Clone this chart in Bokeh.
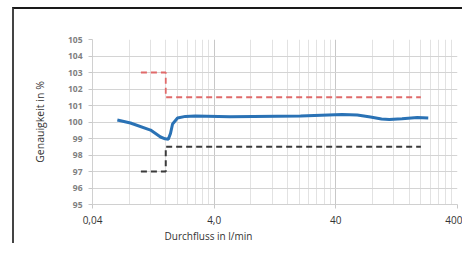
from bokeh.plotting import figure
from bokeh.embed import file_html
from bokeh.resources import INLINE
from bokeh.models import FixedTicker, Range1d, Title

# ---- data ----
flow_x = [0.64, 0.82, 1.20, 1.45, 1.58, 1.68, 1.75, 1.82, 2.0, 2.32, 2.8, 5.4, 20.5, 45.0, 60.0, 77.0, 95.0, 110.0, 140.0, 187.0, 230.0]
accuracy_y = [100.12, 99.94, 99.51, 99.09, 98.98, 98.96, 99.3, 99.88, 100.24, 100.34, 100.37, 100.32, 100.36, 100.45, 100.42, 100.3, 100.18, 100.15, 100.2, 100.27, 100.24]

upper_x = [1.0, 1.6, 1.6, 200.0]
upper_y = [103.0, 103.0, 101.5, 101.5]
lower_x = [1.0, 1.6, 1.6, 200.0]
lower_y = [97.0, 97.0, 98.5, 98.5]

x_tick_values = [0.4, 4.0, 40.0, 400.0]
x_tick_labels = ["0,04", "4,0", "40", "400"]
y_tick_values = [95, 96, 97, 98, 99, 100, 101, 102, 103, 104, 105]

x_title = "Durchfluss in l/min"
y_title = "Genauigkeit in %"

FONT = "Open Sans"

p = figure(width=450, height=236, x_axis_type="log",
           x_range=Range1d(0.4, 400), y_range=Range1d(95, 105),
           output_backend="svg", toolbar_location=None,
           min_border_left=78, min_border_right=7, min_border_top=30, min_border_bottom=41,
           styles={"border-top": "2px solid #1a1a1a", "border-left": "2px solid #444444",
                   "margin-left": "12px", "margin-top": "7px"})
p.outline_line_color = None
p.background_fill_color = "white"
p.border_fill_color = "white"

minor = []
for d in [0.4, 4.0, 40.0]:
    for k in range(2, 10):
        minor.append(d * k)

p.xaxis.ticker = FixedTicker(ticks=x_tick_values, minor_ticks=minor)
p.xaxis.major_label_overrides = {v: s for v, s in zip(x_tick_values, x_tick_labels)}
p.yaxis.ticker = FixedTicker(ticks=y_tick_values)

for ax in (p.xaxis, p.yaxis):
    ax.axis_line_color = "#d0d0d0"
    ax.major_tick_line_color = "#c8c8c8"
    ax.major_tick_out = 4
    ax.major_tick_in = 0
    ax.minor_tick_line_color = None
    ax.major_label_text_font = FONT

p.yaxis.major_label_text_font_size = "8.5px"
p.yaxis.major_label_text_color = "#808080"
p.yaxis.major_label_text_font_style = "bold"
p.yaxis.major_label_standoff = 6
p.yaxis.axis_label = y_title
p.yaxis.axis_label_text_font = FONT
p.yaxis.axis_label_text_font_size = "10.5px"
p.yaxis.axis_label_text_font_style = "normal"
p.yaxis.axis_label_text_color = "#333333"
p.yaxis.axis_label_standoff = 18

p.xaxis.major_label_text_font_size = "10px"
p.xaxis.major_label_text_color = "#333333"
p.xaxis.major_label_standoff = 7

p.xgrid.grid_line_color = "#c8c8c8"
p.xgrid.minor_grid_line_color = "#e2e2e2"
p.ygrid.grid_line_color = "#d4d4d4"

p.line(upper_x, upper_y, line_color="#e06a6a", line_width=1.8, line_dash="6 4")
p.line(lower_x, lower_y, line_color="#3a3a3a", line_width=2, line_dash="6 4")
p.line(flow_x, accuracy_y, line_color="#2a72b5", line_width=3)

p.add_layout(Title(text=x_title, align="left", offset=72, standoff=0, text_line_height=0.7,
                   text_font=FONT, text_font_size="10px", text_font_style="normal",
                   text_color="#333333"), "below")

open("out.html", "w").write(file_html(p, INLINE))
